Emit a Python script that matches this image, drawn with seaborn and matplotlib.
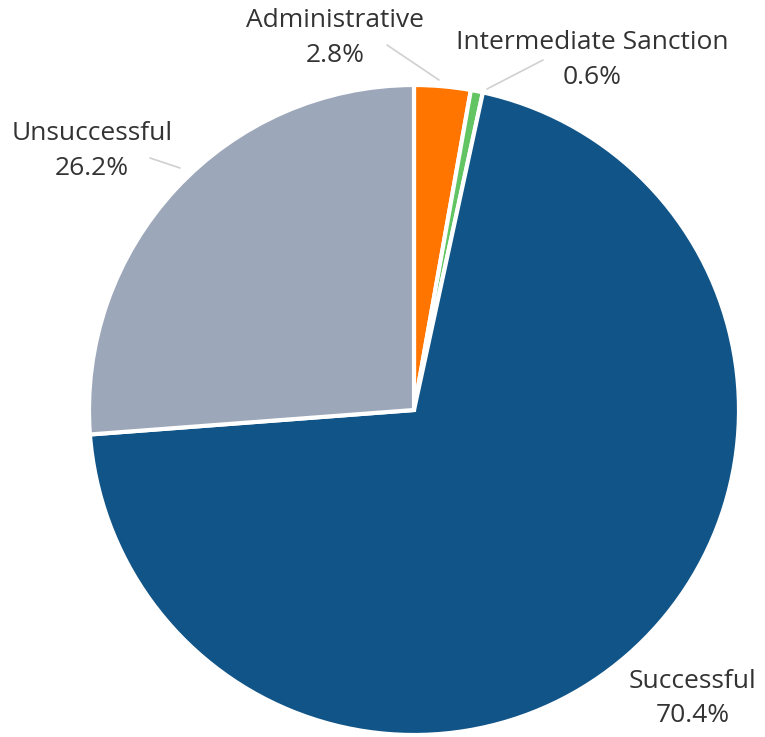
import matplotlib
matplotlib.use("Agg")
import matplotlib.pyplot as plt
import seaborn as sns

categories = ["Administrative", "Intermediate Sanction", "Successful", "Unsuccessful"]
shares = [2.8, 0.6, 70.4, 26.2]
colors = ["#FF7500", "#62C462", "#115487", "#9CA7B9"]

sns.set_theme(style="white")
plt.rcParams["font.family"] = ["Open Sans", "DejaVu Sans"]

W, H = 765, 737
fig = plt.figure(figsize=(W / 100, H / 100), dpi=100)
ax = fig.add_axes([0, 0, 1, 1])

cx, cy, r = 414, H - 410, 325
palette = sns.color_palette(colors)
ax.pie(shares, colors=palette, startangle=90, counterclock=False,
       center=(cx, cy), radius=r,
       wedgeprops=dict(edgecolor="white", linewidth=3), frame=True)
ax.set_xlim(0, W)
ax.set_ylim(0, H)
ax.set_aspect("equal")
ax.axis("off")

# label anchors (text centre) and leader lines, in pixel coordinates from top-left
labels = {
    "Administrative": ((335, 20), ((387, 45), (439, 80))),
    "Intermediate Sanction": ((592, 42), ((543, 60), (487, 89))),
    "Successful": ((693, 681), None),
    "Unsuccessful": ((92, 133), ((150, 158), (180, 168))),
}
for name, val in zip(categories, shares):
    (tx, ty), line = labels[name]
    ax.text(tx, H - ty, name, ha="center", va="center", fontsize=19, color="#333333")
    ax.text(tx, H - ty - 35, f"{val:.1f}%", ha="center", va="center", fontsize=19, color="#333333")
    if line:
        (x0, y0), (x1, y1) = line
        ax.plot([x0, x1], [H - y0, H - y1], color="#D0D0D0", lw=1.2)

fig.savefig("out.png", dpi=100)
